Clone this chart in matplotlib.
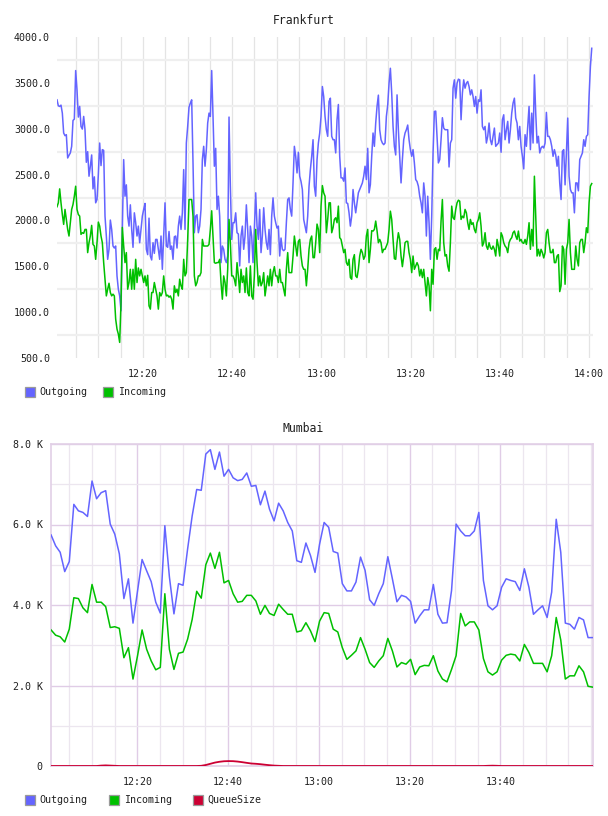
import matplotlib
matplotlib.use('Agg')
import matplotlib.pyplot as plt
import matplotlib.dates as mdates
from matplotlib.patches import Rectangle
from matplotlib.ticker import FixedLocator, FuncFormatter
import pandas as pd

# ---------------- data ----------------
DAY = '2013-05-01 '
fra_start, fra_end = DAY + '12:00:43', DAY + '14:00:37'
fra_xlim = (DAY + '12:00:43', DAY + '14:00:54')
mum_start, mum_end = DAY + '12:01:00', DAY + '14:00:20'
mum_xlim = (DAY + '12:00:59', DAY + '14:00:25')
mum_xlabels = ['12:20', '12:40', '13:00', '13:20', '13:40']

series_names = ['Outgoing', 'Incoming', 'QueueSize']

fra_out = [
    3315, 3250, 3243, 3257, 3170, 2953, 2924, 2935, 2681, 2710, 2736, 2808,
    3090, 3105, 3634, 3424, 3127, 3243, 3025, 2996, 3134, 2989,
    2634, 2750, 2482, 2591, 2714, 2344, 2475, 2192, 2228, 2500, 2844,
    2598, 2772, 2764, 2047, 1830, 1576, 1685, 2004, 1902, 1721,
    1699, 1721, 1395, 1250, 1177, 1015, 1900, 2663, 2264, 2388, 2047,
    1938, 2170, 1902, 1707, 2083, 1975, 1830, 1938, 1757, 1902,
    2047, 2120, 2185, 1685, 1627, 2025, 1612, 1569, 1757, 1641,
    1793, 1793, 1685, 1576, 1830, 1467, 1830, 2192, 1721, 1707,
    1880, 1685, 1721, 1576, 1822, 1830, 1699, 1938, 2047, 1902,
    2083, 2554, 1902, 2844, 3025, 3236, 3279,
    # 12:30 - 13:00
    3315, 2627, 1866, 2047, 2062, 1866, 1938, 2120, 2663, 2808,
    2591, 2772, 3062, 3170, 3134, 3634, 3134, 2591, 2786, 2120,
    2264, 2047, 1540, 1721, 1685, 1576, 1540, 1612, 3127, 2373,
    1793, 1975, 1975, 2083, 1866, 1852, 1504, 1830, 1938, 1685,
    1830, 2170, 1902, 1540, 1938, 1830, 1540, 1902, 2301, 1938,
    1793, 2120, 1649, 1830, 2138, 1902, 1757, 1685, 1902, 1627,
    2047, 2246, 2047, 1975, 1917, 1938, 1612, 1808, 1685, 1670,
    1685, 1975, 2228, 2246, 2120, 2047, 2409, 2808, 2699, 2518,
    2743, 2482, 2424, 2337, 2011, 1938, 1866, 2047, 2373, 2554,
    2699, 2880, 2373, 2264, 2663, 2844, 2953, 3134, 3460, 3351,
    # 13:00 - 13:30
    3134, 2989, 2917, 3297, 3333, 2917, 2880, 2880, 2736, 3098,
    3264, 2699, 2464, 2464, 2428, 2572, 2192, 2185, 2083, 1938,
    2047, 2337, 2192, 2083, 2192, 2301, 2337, 2373, 2409, 2482,
    2591, 2446, 2786, 2301, 2391, 2699, 2953, 2808, 3062, 3243,
    3366, 2989, 2880, 2844, 2826, 2844, 3134, 3257, 3496, 3659,
    3388, 3025, 2808, 2714, 3369, 2989, 2699, 2409, 2663, 2880,
    2953, 2989, 3040, 2880, 2772, 2699, 2772, 2627, 2446, 2424,
    2373, 2264, 2192, 2083, 2409, 2264, 1830, 2264, 1975, 1576,
    2047, 2736, 3188, 3192, 2917, 2627, 2663, 2880, 3120, 3007,
    2989, 2989, 2989, 2583, 2844, 2880, 3442, 3533, 3333, 3496, 3540,
    # 13:30 - 14:00
    3533, 3098, 3388, 3533, 3442, 3496, 3515, 3460, 3369, 3424,
    3351, 3243, 3351, 3170, 3315, 3297, 3424, 3025, 2989, 3025,
    2844, 2917, 3062, 2880, 2826, 2917, 3007, 2808, 2826, 2844,
    2953, 2743, 3098, 3152, 2880, 2989, 3080, 2844, 2989, 3170,
    3279, 3333, 3116, 3062, 2880, 3025, 2808, 2699, 2562, 2935,
    2808, 3025, 3243, 2772, 3170, 2844, 3587, 3170, 2844, 2917,
    2736, 2790, 2808, 2790, 2844, 3178, 2917, 2917, 2880, 2808,
    2699, 2772, 2714, 2591, 2699, 2409, 2228, 2754, 2772, 2388,
    2736, 3116, 2482, 2337, 2301, 2301, 2083, 2409, 2409, 2323,
    2663, 2699, 2736, 2880, 2808, 2917, 2935, 3351, 3677, 3877,
]

fra_in = [
    2149, 2192, 2344, 2192, 2065, 1957, 2120, 2011, 1902, 1830,
    1975, 2120, 2174, 2264, 2373, 2120, 2065, 2047, 1848, 1866,
    1859, 1902, 1902, 1649, 1757, 1830, 1946, 1739, 1721, 1576,
    1757, 1982, 1938, 1830, 1757, 1540, 1359, 1177, 1250, 1315,
    1214, 1177, 1196, 1177, 924, 815, 761, 670, 1105, 1924,
    1721, 1540, 1649, 1250, 1323, 1467, 1250, 1467, 1250, 1576,
    1323, 1482, 1395, 1467, 1395, 1323, 1395, 1287, 1402, 1069,
    1033, 1214, 1214, 1323, 1250, 1177, 1033, 1214, 1177, 1214,
    1395, 1250, 1177, 1185, 1163, 1177, 1141, 1033, 1287, 1214,
    1250, 1177, 1359, 1287, 1250, 1576, 1395, 1431, 1793, 2228, 2228,
    # 12:30 - 13:00
    2228, 2047, 1395, 1287, 1323, 1395, 1395, 1431, 1793, 1721,
    1721, 1721, 1721, 1739, 1902, 2105, 1830, 1540, 1533, 1540,
    1540, 1576, 1323, 1141, 1395, 1323, 1177, 1467, 2011, 1757,
    1395, 1395, 1359, 1287, 1540, 1395, 1214, 1467, 1323, 1395,
    1214, 1482, 1214, 1177, 1504, 1177, 1141, 1395, 1902, 1540,
    1287, 1395, 1287, 1323, 1431, 1177, 1287, 1395, 1287, 1467,
    1287, 1431, 1496, 1395, 1395, 1323, 1467, 1323, 1323, 1250,
    1177, 1467, 1649, 1431, 1431, 1431, 1612, 1830, 1721, 1612,
    1772, 1793, 1612, 1504, 1467, 1467, 1287, 1467, 1685, 1793,
    1830, 1594, 1594, 1757, 1960, 1902, 1649, 2156, 2380, 2301,
    # 13:00 - 13:30
    2264, 1866, 2011, 2192, 2192, 1866, 1920, 2011, 2029, 1975,
    2156, 1812, 1793, 1721, 1649, 1685, 1540, 1511, 1576, 1377,
    1359, 1576, 1627, 1395, 1377, 1467, 1612, 1685, 1649, 1576,
    1612, 1830, 1902, 1540, 1685, 1888, 1884, 1902, 1993, 1888,
    1757, 1793, 1757, 1649, 1685, 1685, 1721, 1757, 1902, 2101,
    2011, 1793, 1583, 1576, 1757, 1866, 1793, 1612, 1496, 1612,
    1757, 1772, 1772, 1649, 1576, 1431, 1612, 1467, 1504, 1540,
    1504, 1395, 1467, 1377, 1467, 1323, 1177, 1377, 1287, 1015,
    1467, 1304, 1685, 1703, 1576, 1685, 1670, 1993, 2228, 1757,
    1612, 1627, 1504, 1446, 1757, 2156, 2029, 2011, 2120, 2192, 2221,
    # 13:30 - 14:00
    2210, 2011, 2047, 2029, 2120, 2083, 1975, 1902, 2011, 1957,
    1975, 1902, 1866, 1975, 2011, 2083, 1938, 1721, 1757, 1866,
    1721, 1685, 1757, 1703, 1685, 1721, 1685, 1612, 1793, 1721,
    1612, 1866, 1830, 1757, 1721, 1703, 1649, 1757, 1793, 1812,
    1866, 1884, 1830, 1793, 1884, 1775, 1793, 1757, 1750, 1793,
    1739, 1830, 1975, 1685, 1902, 1721, 2482, 2047, 1612, 1685,
    1612, 1685, 1649, 1591, 1649, 1866, 1902, 1757, 1649, 1649,
    1685, 1540, 1540, 1612, 1627, 1224, 1287, 1721, 1685, 1304,
    1685, 1757, 2011, 1649, 1467, 1467, 1467, 1721, 1576, 1504,
    1757, 1793, 1793, 1649, 1757, 1920, 1866, 2192, 2373, 2402,
]

# Mumbai, thousands, one sample per minute
mum_out_k = [
    5.74, 5.47, 5.31, 4.83, 5.08, 6.50, 6.34, 6.30, 6.20, 7.08,
    6.64, 6.79, 6.84, 6.01, 5.76, 5.27, 4.16, 4.65, 3.55, 4.35,
    5.13, 4.85, 4.58, 4.07, 3.80, 5.97, 4.70, 3.78, 4.53, 4.49,
    5.39, 6.21, 6.87, 6.85, 7.75, 7.86, 7.37, 7.80, 7.20, 7.37,
    7.16, 7.09, 7.12, 7.28, 6.95, 6.97, 6.49, 6.83, 6.38, 6.09,
    6.53, 6.34, 6.05, 5.84, 5.10, 5.06, 5.54, 5.23, 4.81, 5.51,
    6.05, 5.93, 5.33, 5.29, 4.53, 4.35, 4.35, 4.57, 5.19, 4.86,
    4.13, 3.99, 4.28, 4.53, 5.20, 4.65, 4.08, 4.24, 4.20, 4.09,
    3.55, 3.73, 3.88, 3.88, 4.51, 3.77, 3.55, 3.56, 4.36, 6.01,
    5.84, 5.72, 5.72, 5.84, 6.30, 4.61, 3.98, 3.88, 3.98, 4.44,
    4.65, 4.61, 4.58, 4.36, 4.90, 4.44, 3.77, 3.88, 3.98, 3.69,
    4.32, 6.13, 5.31, 3.55, 3.52, 3.40, 3.69, 3.63, 3.19, 3.19,
]

mum_in_k = [
    3.38, 3.25, 3.21, 3.08, 3.40, 4.18, 4.16, 3.93, 3.81, 4.51,
    4.07, 4.07, 3.96, 3.44, 3.46, 3.42, 2.69, 2.94, 2.16, 2.74,
    3.38, 2.90, 2.61, 2.39, 2.45, 4.28, 2.90, 2.40, 2.80, 2.83,
    3.15, 3.64, 4.34, 4.17, 5.00, 5.29, 4.91, 5.31, 4.55, 4.61,
    4.28, 4.07, 4.09, 4.24, 4.24, 4.10, 3.77, 3.99, 3.79, 3.74,
    4.02, 3.89, 3.77, 3.77, 3.33, 3.36, 3.56, 3.36, 3.09, 3.60,
    3.81, 3.79, 3.40, 3.33, 2.94, 2.65, 2.75, 2.86, 3.19, 2.90,
    2.57, 2.45, 2.61, 2.74, 3.17, 2.86, 2.46, 2.57, 2.53, 2.65,
    2.27, 2.46, 2.50, 2.49, 2.74, 2.36, 2.16, 2.09, 2.40, 2.74,
    3.79, 3.48, 3.58, 3.58, 3.38, 2.67, 2.34, 2.26, 2.34, 2.63,
    2.75, 2.78, 2.76, 2.61, 3.02, 2.82, 2.55, 2.55, 2.55, 2.34,
    2.74, 3.69, 3.13, 2.16, 2.24, 2.24, 2.49, 2.34, 1.98, 1.96,
]

mum_queue_k = [
    0, 0, 0, 0, 0, 0, 0, 0, 0, 0,
    0, 0.010, 0.015, 0.010, 0.005, 0, 0, 0, 0, 0,
    0, 0, 0, 0, 0, 0, 0, 0, 0, 0,
    0, 0, 0, 0.005, 0.025, 0.055, 0.085, 0.105, 0.118, 0.122,
    0.120, 0.110, 0.095, 0.078, 0.062, 0.055, 0.045, 0.032, 0.020, 0.010,
    0.005, 0, 0, 0, 0, 0, 0, 0, 0, 0,
    0, 0, 0, 0, 0, 0, 0, 0, 0, 0,
    0, 0, 0, 0, 0, 0, 0, 0, 0, 0,
    0, 0, 0, 0, 0, 0, 0, 0, 0, 0,
    0, 0, 0, 0, 0, 0, 0.005, 0.008, 0.005, 0,
    0, 0, 0, 0, 0, 0, 0, 0, 0, 0,
    0, 0, 0, 0, 0, 0, 0, 0, 0, 0,
]

fra_yticks = [500, 1000, 1500, 2000, 2500, 3000, 3500, 4000]
fra_ygrid = [750, 1250, 1750, 2250, 2750, 3250, 3750]
mum_yticks = [0, 2, 4, 6, 8]
mum_ygrid_minor = [1, 3, 5, 7]

# ---------------- style ----------------
C_OUT = '#6464ff'
C_IN = '#00c000'
C_Q = '#cc0033'
FONT = 'DejaVu Sans Mono'
TXT = '#202020'
plt.rcParams['font.family'] = [FONT, 'DejaVu Sans']

W, H = 608, 816
fig = plt.figure(figsize=(W / 100, H / 100), dpi=100)


def axes_px(l, t, r, b):
    return fig.add_axes([l / W, 1 - b / H, (r - l) / W, (b - t) / H])


def legend_px(items, yc):
    for xs, xt, color, label in items:
        fig.patches.append(Rectangle((xs / W, 1 - (yc + 5) / H), 10 / W, 10 / H,
                                     transform=fig.transFigure, facecolor=color,
                                     edgecolor='#9a9a9a', lw=0.9))
        fig.text(xt / W, 1 - yc / H, label, ha='left', va='center',
                 fontsize=7.2, color=TXT)


# ---------------- Frankfurt ----------------
ax1 = axes_px(57, 37, 593, 358)
t_out = pd.date_range(fra_start, fra_end, periods=len(fra_out))
t_in = pd.date_range(fra_start, fra_end, periods=len(fra_in))
ax1.plot(t_out, fra_out, color=C_OUT, lw=1.1, zorder=3)
ax1.plot(t_in, fra_in, color=C_IN, lw=1.1, zorder=3)
ax1.set_xlim(pd.Timestamp(fra_xlim[0]), pd.Timestamp(fra_xlim[1]))
ax1.set_ylim(fra_yticks[0], fra_yticks[-1])
for s in ax1.spines.values():
    s.set_visible(False)
ax1.yaxis.set_major_locator(FixedLocator(fra_yticks))
ax1.yaxis.set_minor_locator(FixedLocator(fra_ygrid))
ax1.yaxis.set_major_formatter(FuncFormatter(lambda v, p: '%.1f' % v))
ax1.xaxis.set_major_locator(mdates.MinuteLocator(byminute=[0, 20, 40]))
ax1.xaxis.set_minor_locator(mdates.MinuteLocator(byminute=range(0, 60, 5)))
ax1.xaxis.set_major_formatter(mdates.DateFormatter('%H:%M'))
ax1.grid(True, which='minor', axis='y', color='#efefef', lw=1.6, zorder=0)
ax1.grid(True, which='both', axis='x', color='#e4e4e4', lw=0.9, zorder=0)
ax1.tick_params(which='both', length=0)
ax1.tick_params(axis='y', pad=5, labelsize=7.2, labelcolor=TXT)
ax1.tick_params(axis='x', pad=8, labelsize=7.2, labelcolor=TXT)
ax1.set_axisbelow(True)
fig.text(304 / W, 1 - 20 / H, 'Frankfurt', ha='center', va='center',
         fontsize=8.3, color=TXT)
legend_px([(25, 39, C_OUT, series_names[0]), (103, 118, C_IN, series_names[1])], 392)

# ---------------- Mumbai ----------------
ax2 = axes_px(51, 444, 593, 766)
t_m = pd.date_range(mum_start, mum_end, periods=len(mum_out_k))
ax2.plot(t_m, mum_out_k, color=C_OUT, lw=1.1, zorder=3)
ax2.plot(t_m, mum_in_k, color=C_IN, lw=1.1, zorder=3)
ax2.plot(t_m, mum_queue_k, color=C_Q, lw=1.3, zorder=4)
ax2.set_xlim(pd.Timestamp(mum_xlim[0]), pd.Timestamp(mum_xlim[1]))
ax2.set_ylim(mum_yticks[0], mum_yticks[-1])
for k, s in ax2.spines.items():
    s.set_color('#e2d0e6')
    s.set_linewidth(1.2)
ax2.yaxis.set_major_locator(FixedLocator(mum_yticks))
ax2.yaxis.set_minor_locator(FixedLocator(mum_ygrid_minor))
ax2.yaxis.set_major_formatter(FuncFormatter(lambda v, p: '0' if v == 0 else '%.1f K' % v))
mum_major = [mdates.date2num(pd.Timestamp(DAY + s)) for s in mum_xlabels]
ax2.xaxis.set_major_locator(FixedLocator(mum_major))
ax2.xaxis.set_minor_locator(mdates.MinuteLocator(byminute=range(0, 60, 5)))
ax2.xaxis.set_major_formatter(mdates.DateFormatter('%H:%M'))
ax2.grid(True, which='major', color='#e0cce6', lw=1.0, zorder=0)
ax2.grid(True, which='minor', color='#ece6ef', lw=0.9, zorder=0)
ax2.tick_params(which='both', length=0)
ax2.tick_params(axis='y', pad=6, labelsize=7.2, labelcolor=TXT)
ax2.tick_params(axis='x', pad=8, labelsize=7.2, labelcolor=TXT)
ax2.set_axisbelow(True)
fig.text(303 / W, 1 - 428 / H, 'Mumbai', ha='center', va='center',
         fontsize=8.3, color=TXT)
legend_px([(25, 39, C_OUT, series_names[0]), (109, 124, C_IN, series_names[1]),
           (193, 207, C_Q, series_names[2])], 800)

fig.savefig('out.png', dpi=100)
